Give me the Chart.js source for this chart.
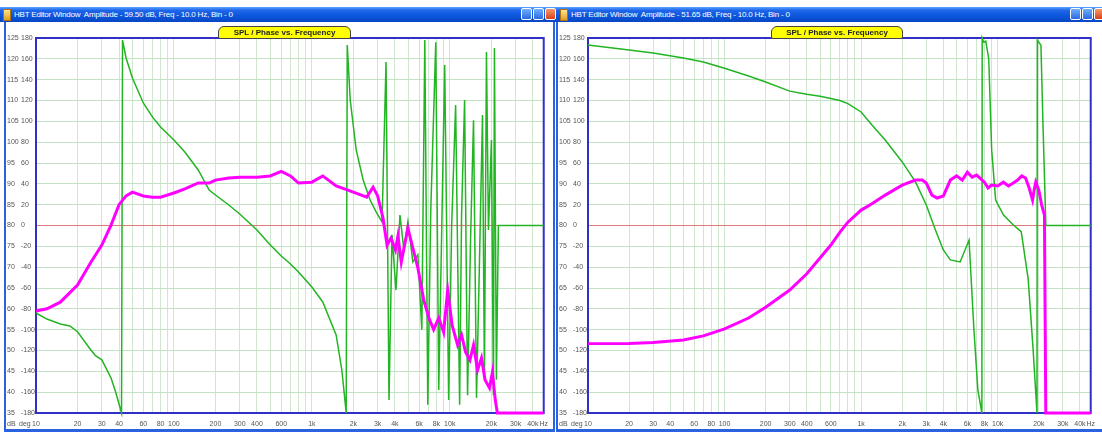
<!DOCTYPE html>
<html><head><meta charset="utf-8">
<script src="https://cdn.jsdelivr.net/npm/chart.js@4"></script>
<style>
html,body{margin:0;padding:0;background:#fff;overflow:hidden;}
body{width:1102px;height:432px;position:relative;font-family:'Liberation Sans Narrow','Liberation Sans',Arial,sans-serif;}
.tb{position:absolute;top:7px;height:15px;background:linear-gradient(#5aa2ff 0%,#1f66ea 22%,#0b56dc 60%,#0846c4 100%);}
.ttl{position:absolute;top:1px;color:#fff;font-size:8px;line-height:13px;white-space:nowrap;letter-spacing:-0.2px;}
.ico{position:absolute;top:2px;width:6px;height:10px;background:linear-gradient(#ffe58a,#e0a020);border:1px solid #b07010;}
.btn{position:absolute;top:1px;width:11px;height:12px;border:1px solid #fff;border-radius:2px;background:linear-gradient(#6fb0ff,#2a68e0);box-sizing:border-box;}
.btn.x{background:linear-gradient(#f5996a,#d8401a);}
.side{position:absolute;top:22px;height:409px;width:2px;background:#2a62e0;}
.bot{position:absolute;top:429px;height:3px;background:#2a62e0;}
.tag{position:absolute;top:26px;height:13px;background:#ffff00;border:1px solid #444;border-radius:6px 6px 2px 2px;font-size:8px;font-weight:bold;text-align:center;line-height:11px;color:#222;box-sizing:border-box;z-index:2;white-space:nowrap;}
.cw{position:absolute;top:22px;height:408px;}
</style>
</head>
<body>
<!-- left window chrome -->
<div class="tb" style="left:0;width:556px;">
  <span class="ico" style="left:3px"></span>
  <span class="ttl" style="left:14px">HBT Editor Window&nbsp; Amplitude - 59.50 dB, Freq - 10.0 Hz, Bin - 0</span>
  <span class="btn" style="left:521px"></span><span class="btn" style="left:533px"></span><span class="btn x" style="left:545px"></span>
</div>
<div class="side" style="left:4px"></div>
<div class="side" style="left:553px"></div>
<div class="bot" style="left:4px;width:551px"></div>
<div class="tag" style="left:218px;width:133px">SPL / Phase vs. Frequency</div>
<div class="cw" style="left:5px;width:550px;"><canvas id="c1"></canvas></div>

<!-- right window chrome -->
<div class="tb" style="left:556px;width:546px;">
  <span class="ico" style="left:4px"></span>
  <span class="ttl" style="left:15px">HBT Editor Window&nbsp; Amplitude - 51.65 dB, Freq - 10.0 Hz, Bin - 0</span>
  <span class="btn" style="left:514px"></span><span class="btn" style="left:526px"></span><span class="btn x" style="left:538px"></span>
</div>
<div class="side" style="left:556px"></div>
<div class="bot" style="left:556px;width:546px"></div>
<div class="tag" style="left:771px;width:132px">SPL / Phase vs. Frequency</div>
<div class="cw" style="left:557px;width:545px;"><canvas id="c2"></canvas></div>

<script>
// ---------- axis ticks ----------
const dbTicks  = [35,40,45,50,55,60,65,70,75,80,85,90,95,100,105,110,115,120,125];
const degTicks = [-180,-160,-140,-120,-100,-80,-60,-40,-20,0,20,40,60,80,100,120,140,160,180];
const freqTickValues = [10,20,30,40,60,80,100,200,300,400,600,1000,2000,3000,4000,6000,8000,10000,20000,30000,40000,48000];
const freqTickLabels = ['10','20','30','40','60','80','100','200','300','400','600','1k','2k','3k','4k','6k','8k','10k','20k','30k','40k','Hz'];
const freqGridLines = [10,20,30,40,50,60,70,80,90,100,200,300,400,500,600,700,800,900,
  1000,2000,3000,4000,5000,6000,7000,8000,9000,10000,20000,30000,40000,48000];

// ---------- left window: SPL (dB) ----------
const leftSplHz = [10,12,15,20,25,30,35,40,45,50,60,70,80,100,120,150,180,200,250,300,
  400,500,600,700,800,1000,1200,1500,2000,2500,2780,3000,3280,3510,3750,4040,4210,4450,4970,5400,
  5870,6480,7060,7640,8320,9030,9660,10400,11400,12180,13030,14000,14870,15900,16980,18030,19400,20390,21380,22140,48000];
const leftSplDb = [59.5,60.0,61.6,65.7,71.2,75.3,80.1,85.0,87.1,88.0,87.1,86.8,86.8,87.8,88.8,90.2,90.2,90.9,91.4,91.6,
  91.6,91.9,93.0,91.9,90.2,90.4,91.9,89.5,88.0,86.8,89.2,87.1,81.8,75.3,77.0,74.1,77.5,71.2,79.4,74.6,
  69.8,62.1,57.8,55.0,57.8,54.4,64.5,56.1,51.3,53.7,49.6,47.7,51.3,45.3,48.2,42.9,41.0,44.8,38.1,35.0,35.0];

// ---------- left window: phase (deg) ----------
const leftPhaseHz = [10,12,15,17.6,20,25,27,30,35,38,41.7,42.4,45,50,60,70,80,100,120,150,
  180,200,250,300,400,500,600,700,800,1000,1200,1500,1650,1775,1806,1898,2097,2355,2645,2923,
  3228,3451,3627,3812,4074,4354,4652,4972,5403,5870,6273,6593,6929,7284,7917,8318,8743,9189,9820,10320,
  11030,11790,12180,12810,13460,14150,14870,15630,16430,17270,17840,18450,19080,20050,20730,21080,21780,22520,48000];
const leftPhaseDeg = [-84,-89.8,-94.6,-96.5,-102,-119.5,-125,-129,-146.4,-160.8,-180,178,160.8,141.6,117.6,104,94.6,82,70.6,53.3,
  34,29.3,19.7,11,-4.3,-18.7,-29.3,-37,-44.6,-59,-73.4,-105,-138.7,-180,173.3,120.5,72.5,43.7,24.5,13,
  3.4,157,-167.5,-9,-62,10,-23.5,3.4,-35,-28,-100,178,-172,15,176,-158,-4.3,154,-167.5,-0.5,
  115.7,-172,10,120.5,-163,-14,101,-165.6,-33,106,-148,166.6,-4.3,82,-163,170.4,-148,0,0];

// ---------- right window: SPL (dB) ----------
const rightSplHz = [10,20,30,50,70,100,150,200,300,400,500,600,700,800,1000,1200,1500,2000,2500,2800,
  3000,3300,3600,4000,4500,5000,5500,6000,6500,7000,8000,8500,9000,10000,11000,12000,13000,14000,15000,16000,
  17000,18000,18500,19000,20000,21000,22000,22500,48000];
const rightSplDb = [51.65,51.7,51.9,52.5,53.5,55.2,57.8,60.4,64.5,68.4,72.2,75.3,78.4,80.8,83.7,85.2,87.3,89.7,90.9,90.9,
  90.2,87.3,86.6,87.1,90.9,91.9,90.9,92.8,91.6,92.1,90.4,89.0,89.7,89.5,90.4,89.5,90.2,90.9,91.9,91.4,
  89.0,86.1,88.5,90.4,88.5,84.9,82.5,35,35];

// ---------- right window: phase (deg) ----------
const rightPhaseHz = [10,20,30,50,70,100,150,200,300,400,500,600,700,800,1000,1200,1500,2000,2500,3000,
  3500,4000,4500,5310,6170,6700,7160,7660,7700,7917,8180,8600,9036,9659,11030,13020,14870,16710,18150,19400,
  19500,20730,21420,22520,48000];
const rightPhaseDeg = [173.3,168.5,165.6,160.8,157,151,143.5,137.8,129,126,124,122,120,117,109,96.5,82,61,41.8,19.7,
  -4.3,-23.5,-33,-35,-14,-100,-158,-180,180,176,177,160,72.5,24.5,10,0.5,-6,-51,-118,-180,
  178,173,101,0,0];

const FONT = "'Liberation Sans Narrow','Liberation Sans',Arial,sans-serif";
const LABEL_COLOR = '#555';

const framePlugin = {
  id: 'frame',
  beforeDatasetsDraw(chart) {
    const a = chart.chartArea, ctx = chart.ctx;
    ctx.save();
    ctx.strokeStyle = '#3030c8';
    ctx.lineWidth = 2;
    ctx.strokeRect(a.left, a.top, a.right - a.left, a.bottom - a.top);
    ctx.restore();
  },
  afterDraw(chart) {
    const ctx = chart.ctx, a = chart.chartArea;
    ctx.save();
    ctx.font = '7px ' + FONT;
    ctx.fillStyle = LABEL_COLOR;
    ctx.textBaseline = 'middle';
    ctx.textAlign = 'left';
    const y = a.bottom + 11;
    ctx.fillText('dB', chart.scales.db.left, y);
    ctx.fillText('deg', chart.scales.deg.left - 2, y);
    ctx.restore();
  }
};

function makeChart(id, splHz, splDb, phHz, phDeg, padRight) {
  return new Chart(document.getElementById(id), {
    type: 'line',
    data: {
      datasets: [
        { label: 'SPL', data: splHz.map((f, i) => ({x: f, y: splDb[i]})), yAxisID: 'db',
          borderColor: '#ff00ff', borderWidth: 3, pointRadius: 0, tension: 0, clip: 4, order: 0 },
        { label: 'Phase', data: phHz.map((f, i) => ({x: f, y: phDeg[i]})), yAxisID: 'deg',
          borderColor: '#22b422', borderWidth: 1.5, pointRadius: 0, tension: 0, clip: 4, order: 1 }
      ]
    },
    options: {
      responsive: true, maintainAspectRatio: false, animation: false,
      layout: { padding: { left: 2, top: 16, right: padRight, bottom: 0 } },
      plugins: { legend: { display: false }, tooltip: { enabled: false } },
      scales: {
        x: {
          type: 'logarithmic', position: 'bottom', min: 10, max: 48000,
          afterBuildTicks: s => { s.ticks = freqGridLines.map(v => ({value: v})); },
          afterFit: s => { s.height = 17; },
          grid: { color: '#cfe6cf', lineWidth: 1, drawTicks: false },
          border: { display: false },
          ticks: { autoSkip: false, maxRotation: 0, minRotation: 0, padding: 7,
            font: { size: 7, family: FONT }, color: LABEL_COLOR,
            callback: v => { const i = freqTickValues.indexOf(v); return i >= 0 ? freqTickLabels[i] : ''; } }
        },
        db: {
          type: 'linear', position: 'left', min: 35, max: 125, weight: 2,
          afterBuildTicks: s => { s.ticks = dbTicks.map(v => ({value: v})); },
          afterFit: s => { s.width = 14; },
          grid: { display: false }, border: { display: false },
          ticks: { crossAlign: 'far', padding: 0, font: { size: 7, family: FONT }, color: LABEL_COLOR }
        },
        deg: {
          type: 'linear', position: 'left', min: -180, max: 180, weight: 1,
          afterBuildTicks: s => { s.ticks = degTicks.map(v => ({value: v})); },
          afterFit: s => { s.width = 15; },
          grid: { drawTicks: false, lineWidth: 1,
            color: c => (c.tick && c.tick.value === 0) ? '#e07a7a' : '#c4e2c4' },
          border: { display: false },
          ticks: { crossAlign: 'far', padding: 0, font: { size: 7, family: FONT }, color: LABEL_COLOR }
        }
      }
    },
    plugins: [framePlugin]
  });
}

makeChart('c1', leftSplHz, leftSplDb, leftPhaseHz, leftPhaseDeg, 9);
makeChart('c2', rightSplHz, rightSplDb, rightPhaseHz, rightPhaseDeg, 4);
</script>
</body></html>
